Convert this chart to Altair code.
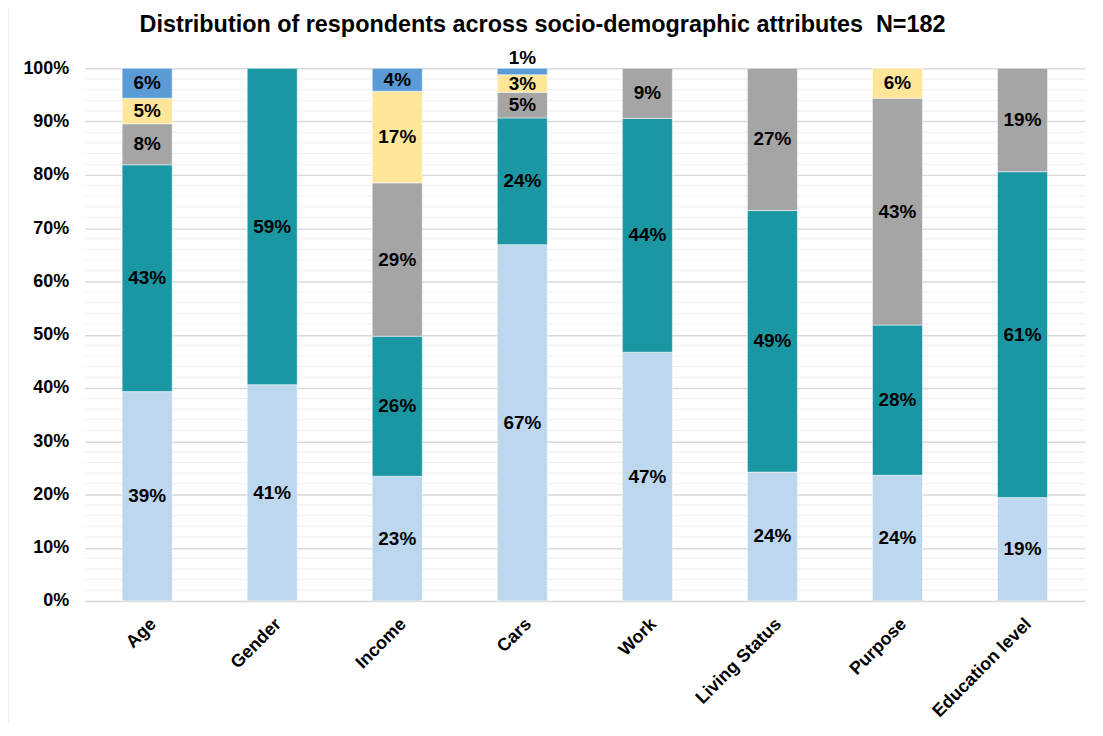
import altair as alt
import pandas as pd

categories = ["Age", "Gender", "Income", "Cars", "Work", "Living Status", "Purpose", "Education level"]
group1 = [39.3, 40.6, 23.4, 66.9, 46.7, 24.2, 23.6, 19.4]
group2 = [42.6, 59.4, 26.3, 23.8, 43.9, 49.1, 28.2, 61.2]
group3 = [7.7, 0, 28.8, 4.8, 9.4, 26.7, 42.6, 19.4]
group4 = [4.8, 0, 17.2, 3.3, 0, 0, 5.6, 0]
group5 = [5.6, 0, 4.3, 1.2, 0, 0, 0, 0]
groups = ["Group 1", "Group 2", "Group 3", "Group 4", "Group 5"]
colors = ["#BDD7EE", "#1B97A4", "#A5A5A5", "#FFE699", "#5B9BD5"]
major_ticks = [0, 10, 20, 30, 40, 50, 60, 70, 80, 90, 100]
minor_ticks = [v for v in range(2, 100, 2) if v % 10 != 0]
title_text = "Distribution of respondents across socio-demographic attributes \u00a0N=182"

rows = []
for gi, (g, vals) in enumerate(zip(groups, [group1, group2, group3, group4, group5])):
    for c, v in zip(categories, vals):
        if v > 0:
            rows.append({"category": c, "group": g, "order": gi, "value": v})
df = pd.DataFrame(rows)

FONT = "Liberation Sans"
W, H = 1005, 535

xenc = alt.X("category:N", sort=categories,
             scale=alt.Scale(paddingInner=0.6, paddingOuter=0.3),
             axis=alt.Axis(title=None, labelAngle=-45, labelFont=FONT, labelFontSize=18,
                           labelFontWeight="bold", labelColor="#000000", ticks=False,
                           domain=True, domainColor="#D9D9D9", labelPadding=14))
yscale = alt.Scale(domain=[0, 100], nice=False)

base = alt.Chart(df).transform_stack(
    stack="value", groupby=["category"], as_=["y0", "y1"],
    sort=[alt.SortField("order", order="ascending")]
)

bars = base.mark_bar(stroke="#FFFFFF", strokeWidth=0.5).encode(
    x=xenc,
    y=alt.Y("y0:Q", scale=yscale,
            axis=alt.Axis(title=None, values=major_ticks, labelExpr="datum.value + '%'",
                          labelFont=FONT, labelFontSize=18, labelFontWeight="bold",
                          labelColor="#000000", ticks=False, domain=False,
                          gridColor="#D9D9D9", gridWidth=1.5, labelPadding=16)),
    y2="y1:Q",
    color=alt.Color("group:N", scale=alt.Scale(domain=groups, range=colors), legend=None),
)

labels = base.transform_calculate(
    mid="datum.value < 2 ? datum.y1 + 1.9 : (datum.y0 + datum.y1) / 2",
    label="format(datum.value, '.0f') + '%'"
).mark_text(font=FONT, fontSize=19, fontWeight="bold", color="#000000", baseline="middle").encode(
    x=alt.X("category:N", sort=categories),
    y=alt.Y("mid:Q", scale=yscale),
    text="label:N",
)

minor = alt.Chart(pd.DataFrame({"v": minor_ticks})).mark_rule(color="#EEEEEE", strokeWidth=1).encode(
    y=alt.Y("v:Q", scale=yscale)
)

one = pd.DataFrame({"t": [title_text]})
border = alt.Chart(one).mark_rect(
    fill=None, stroke="#D9D9D9", strokeWidth=1
).encode(
    x=alt.value(-77), x2=alt.value(W + 40), y=alt.value(-63), y2=alt.value(H + 200)
)

title = alt.Chart(one).mark_text(
    font=FONT, fontSize=23.5, fontWeight="bold", color="#000000", align="center", baseline="alphabetic"
).encode(x=alt.value(460), y=alt.value(-37), text="t:N")

chart = alt.layer(minor, bars, labels, border, title).properties(
    width=W, height=H,
    autosize=alt.AutoSizeParams(type="none"),
    padding={"left": 77, "top": 59, "right": 10, "bottom": 120},
).configure_view(stroke=None)

chart.save("out.html", embed_options={"renderer": "svg", "actions": False})
